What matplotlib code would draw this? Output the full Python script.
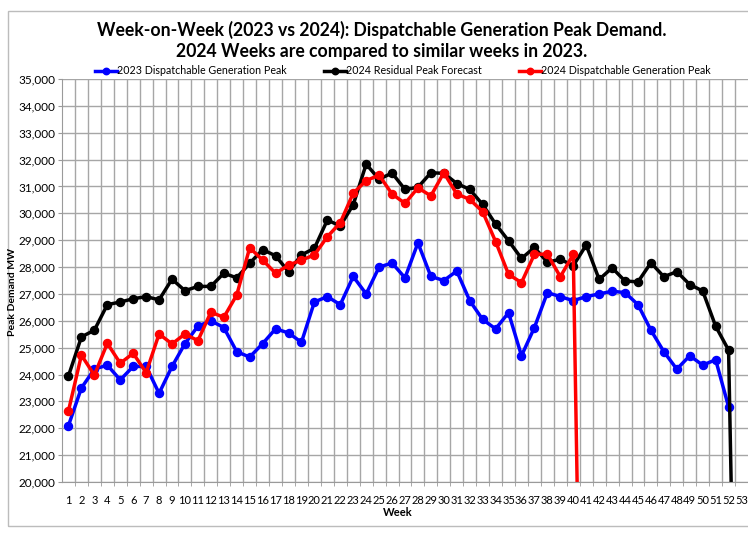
import numpy as np
import matplotlib
matplotlib.use('Agg')
import matplotlib.pyplot as plt
from matplotlib.patches import Rectangle
from matplotlib.ticker import FuncFormatter, MultipleLocator, FixedLocator

plt.rcParams['font.family'] = ['Lato', 'DejaVu Sans']

# --- Data ---
weeks = np.arange(1, 54)

peak_2023 = [22100, 23500, 24200, 24350, 23800, 24300, 24300, 23300, 24300, 25150,
             25800, 26000, 25750, 24850, 24650, 25150, 25700, 25550, 25200, 26700,
             26900, 26600, 27650, 27000, 28000, 28150, 27600, 28900, 27650, 27500,
             27850, 26750, 26050, 25700, 26300, 24700, 25750, 27050, 26900, 26750,
             26900, 27000, 27100, 27050, 26600, 25650, 24850, 24200, 24700, 24350,
             24550, 22800, np.nan]

forecast_2024 = [23950, 25400, 25650, 26600, 26700, 26820, 26900, 26780, 27550, 27120,
                 27280, 27280, 27770, 27600, 28140, 28650, 28420, 27830, 28450, 28700,
                 29750, 29530, 30320, 31830, 31270, 31500, 30890, 30970, 31510, 31490,
                 31110, 30890, 30330, 29600, 28980, 28320, 28730, 28180, 28290, 28050,
                 28820, 27540, 27970, 27480, 27450, 28160, 27640, 27830, 27350, 27110,
                 25800, 24910, 0]

peak_2024 = [22650, 24720, 23980, 25160, 24420, 24790, 24070, 25510, 25140, 25510,
             25260, 26320, 26130, 26960, 28720, 28260, 27770, 28070, 28260, 28450,
             29130, 29650, 30750, 31220, 31420, 30720, 30370, 30950, 30650, 31510,
             30720, 30520, 30060, 28950, 27730, 27420, 28480, 28480, 27640, 28470,
             0, 0, 0, 0, 0, 0, 0, 0, 0, 0, 0, 0, 0]

series = [
    ("2023 Dispatchable Generation Peak", peak_2023, "#0000ff"),
    ("2024 Residual Peak Forecast", forecast_2024, "#000000"),
    ("2024 Dispatchable Generation Peak", peak_2024, "#ff0000"),
]

fig = plt.figure(figsize=(7.48, 5.36), dpi=100)

# outer chart frame
fig.patches.append(Rectangle((8 / 748, 1 - 526 / 536), 1.0, 515 / 536,
                             transform=fig.transFigure, fill=False,
                             edgecolor="#bcbcbc", linewidth=1.0))

ax = fig.add_axes([62 / 748, 54 / 536, 686 / 748, 403 / 536])

for label, vals, color in series:
    ax.plot(weeks, vals, color=color, linewidth=2.5, marker='o', markersize=5.8,
            label=label)

ax.set_xlim(0.5, 53.5)
ax.set_ylim(20000, 35000)

ax.set_xticks(weeks, [str(w) for w in weeks])
ax.xaxis.set_minor_locator(FixedLocator(np.arange(1.5, 53, 1.0)))
ax.yaxis.set_major_locator(MultipleLocator(1000))
ax.yaxis.set_major_formatter(FuncFormatter(lambda v, p: f"{int(v):,}"))

ax.tick_params(axis='x', which='major', length=0, labelsize=8, pad=9)
ax.tick_params(axis='x', which='minor', length=3, color='#9a9a9a')
ax.tick_params(axis='y', length=3, color='#9a9a9a', labelsize=8.5, pad=2)

ax.grid(True, axis='x', which='minor', color='#a6a6a6', linewidth=1.0)
ax.grid(True, axis='y', which='major', color='#a6a6a6', linewidth=1.0)
ax.set_axisbelow(True)
for side in ['top', 'right']:
    ax.spines[side].set_visible(False)
for side in ['left', 'bottom']:
    ax.spines[side].set_color('#9a9a9a')

fig.text(382 / 748, 1 - 30 / 536,
         "Week-on-Week (2023 vs 2024): Dispatchable Generation Peak Demand.",
         ha='center', va='center', fontsize=12.7, weight='bold')
fig.text(382 / 748, 1 - 52 / 536,
         "2024 Weeks are compared to similar weeks in 2023.",
         ha='center', va='center', fontsize=12.7, weight='bold')

fig.legend(loc='center', bbox_to_anchor=(403 / 748, 1 - 71 / 536), ncol=3,
           frameon=False, fontsize=7.7, handlelength=2.0, handletextpad=0.05,
           columnspacing=3.5, markerscale=0.8)

fig.text(13 / 748, 1 - 292 / 536, "Peak Demand MW", rotation=90,
         ha='center', va='center', fontsize=7.5, weight='bold')
fig.text(398 / 748, 1 - 513 / 536, "Week", ha='center', va='center',
         fontsize=8, weight='bold')

fig.savefig("out.png", dpi=100)
